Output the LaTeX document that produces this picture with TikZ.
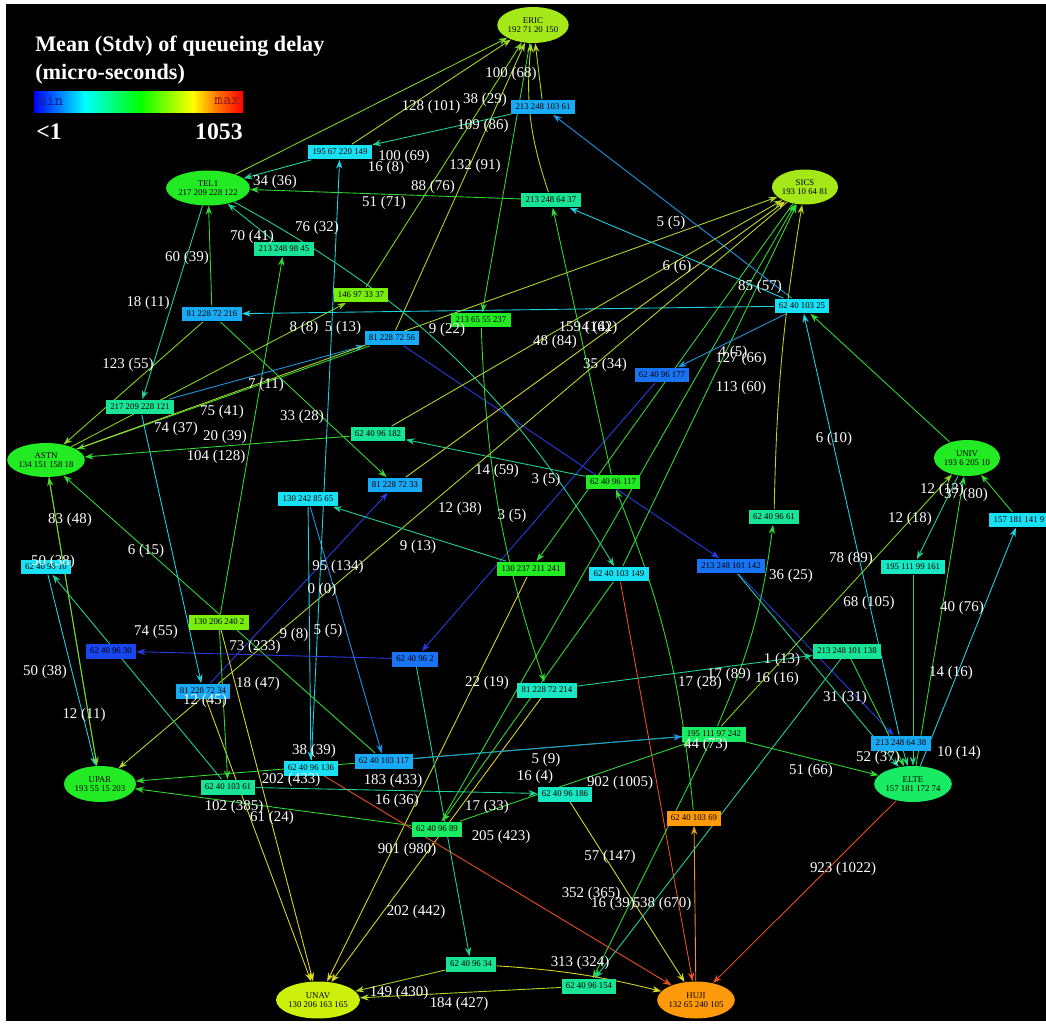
\documentclass[tikz,border=0pt]{standalone}
\usepackage{fontspec}
\setmainfont{Liberation Serif}
\usetikzlibrary{shapes.geometric,arrows.meta,backgrounds}
\definecolor{kblue}{RGB}{25,70,240}
\definecolor{kazure}{RGB}{25,115,245}
\definecolor{ksky}{RGB}{25,170,245}
\definecolor{kcyan}{RGB}{25,225,245}
\definecolor{kaqua}{RGB}{25,230,195}
\definecolor{kteal}{RGB}{25,228,150}
\definecolor{kmint}{RGB}{25,235,100}
\definecolor{kgreen}{RGB}{35,235,35}
\definecolor{klime}{RGB}{120,238,10}
\definecolor{kolive}{RGB}{165,232,25}
\definecolor{kyell}{RGB}{205,240,10}
\definecolor{korange}{RGB}{255,155,10}
\definecolor{lblue}{RGB}{40,60,230}
\definecolor{lsky}{RGB}{30,150,230}
\definecolor{lcyan}{RGB}{30,210,230}
\definecolor{lteal}{RGB}{30,210,150}
\definecolor{lgreen}{RGB}{50,215,50}
\definecolor{llime}{RGB}{130,215,30}
\definecolor{lolive}{RGB}{175,215,40}
\definecolor{lyell}{RGB}{215,215,40}
\definecolor{lorange}{RGB}{235,150,30}
\definecolor{lred}{RGB}{235,80,30}
\tikzset{
  host/.style={ellipse,inner sep=0pt,minimum width=1.44cm,minimum height=0.72cm,align=center,font=\fontsize{5}{5.5}\selectfont},
  router/.style={rectangle,inner xsep=2.5pt,inner ysep=0pt,minimum height=0.3cm,font=\fontsize{5}{5}\selectfont},
  hop/.style={-{Stealth[length=5pt,width=3.6pt]},line width=0.5pt},
  lbl/.style={text=white,inner sep=0pt,font=\fontsize{8.5}{8.5}\selectfont}
}
\begin{document}
\begin{tikzpicture}[x=0.02cm,y=-0.02cm]
\useasboundingbox (0,0) rectangle (1046,1024);
\node[host,fill=kolive,minimum width=1.42cm] (eric) at (533,25) {ERIC\\192 71 20 150};
\node[host,fill=kgreen,minimum width=1.56cm,minimum height=0.7cm] (tel1) at (208,188) {TEL1\\217 209 228 122};
\node[host,fill=kolive,minimum width=1.32cm,minimum height=0.7cm] (sics) at (805,187) {SICS\\193 10 64 81};
\node[host,fill=kgreen,minimum height=0.68cm] (astn) at (46,460) {ASTN\\134 151 158 18};
\node[host,fill=kgreen,minimum width=1.32cm] (univ) at (967,458) {UNIV\\193 6 205 10};
\node[host,fill=kgreen] (upar) at (100,784) {UPAR\\193 55 15 203};
\node[host,fill=kmint] (elte) at (913,784) {ELTE\\157 181 172 74};
\node[host,fill=kyell,minimum width=1.64cm,minimum height=0.74cm] (unav) at (318,1000) {UNAV\\130 206 163 165};
\node[host,fill=korange,minimum width=1.52cm,minimum height=0.74cm] (huji) at (696,1000) {HUJI\\132 65 240 105};
\node[router,fill=kcyan] (b1) at (340,152) {195 67 220 149};
\node[router,fill=ksky] (b2) at (543,107) {213 248 103 61};
\node[router,fill=kteal] (b3) at (551,200) {213 248 64 37};
\node[router,fill=kteal] (b4) at (284,249) {213 248 98 45};
\node[router,fill=klime] (b5) at (361,295) {146 97 33 37};
\node[router,fill=ksky] (b6) at (212,314) {81 228 72 216};
\node[router,fill=kgreen] (b7) at (481,320) {213 65 55 237};
\node[router,fill=ksky] (b8) at (392,338) {81 228 72 56};
\node[router,fill=kcyan] (b9) at (802,306) {62 40 103 25};
\node[router,fill=kazure] (b10) at (662,375) {62 40 96 177};
\node[router,fill=kteal] (b11) at (140,407) {217 209 228 121};
\node[router,fill=kteal] (b12) at (378,434) {62 40 96 182};
\node[router,fill=ksky] (b13) at (395,485) {81 228 72 33};
\node[router,fill=kgreen] (b14) at (613,482) {62 40 96 117};
\node[router,fill=kcyan] (b15) at (308,499) {130 242 85 65};
\node[router,fill=kteal] (b16) at (774,517) {62 40 96 61};
\node[router,fill=kgreen] (b17) at (531,569) {130 237 211 241};
\node[router,fill=kcyan] (b18) at (619,574) {62 40 103 149};
\node[router,fill=kazure] (b19) at (731,566) {213 248 101 142};
\node[router,fill=kaqua] (b20) at (913,567) {195 111 99 161};
\node[router,fill=kcyan] (b21) at (1019,520) {157 181 141 9};
\node[router,fill=kcyan] (b22) at (46,567) {62 40 96 10};
\node[router,fill=klime] (b23) at (219,622) {130 206 240 2};
\node[router,fill=kblue] (b24) at (111,651) {62 40 96 30};
\node[router,fill=kazure] (b25) at (415,659) {62 40 96 2};
\node[router,fill=kteal] (b26) at (847,651) {213 248 101 138};
\node[router,fill=ksky] (b27) at (203,691) {81 228 72 34};
\node[router,fill=kaqua] (b28) at (547,690) {81 228 72 214};
\node[router,fill=kmint] (b29) at (714,734) {195 111 97 242};
\node[router,fill=ksky] (b30) at (901,743) {213 248 64 38};
\node[router,fill=ksky] (b31) at (384,761) {62 40 103 117};
\node[router,fill=kcyan] (b32) at (311,768) {62 40 96 136};
\node[router,fill=kteal] (b33) at (228,787) {62 40 103 61};
\node[router,fill=kaqua] (b34) at (565,794) {62 40 96 186};
\node[router,fill=kmint] (b35) at (437,829) {62 40 96 89};
\node[router,fill=korange] (b36) at (694,818) {62 40 103 69};
\node[router,fill=kteal] (b37) at (471,964) {62 40 96 34};
\node[router,fill=kteal] (b38) at (589,986) {62 40 96 154};
\begin{scope}[on background layer]
\fill[white] (0,0) rectangle (1046,1024);
\fill[black] (6,4) rectangle (1046,1021);
\foreach \a/\b/\c in {b2/eric/lolive,b1/eric/lolive,tel1/eric/llime,b5/eric/llime,b8/eric/lolive,eric/b7/lgreen,
  b1/tel1/lteal,b3/tel1/lgreen,b4/tel1/lteal,b6/tel1/lgreen,tel1/b11/lteal,
  b23/b4/lgreen,b9/b6/lcyan,b6/astn/llime,b6/b13/lgreen,astn/b5/llime,b11/b8/lsky,b8/astn/lgreen,b8/b19/lblue,b12/astn/lgreen,
  astn/sics/lolive,b13/sics/lyell,b12/sics/lolive,sics/b17/lgreen,b18/sics/lgreen,b35/sics/lgreen,sics/upar/lolive,
  b30/b9/lcyan,univ/b9/lgreen,b9/b2/lsky,b9/b3/lcyan,b9/b10/lsky,b10/b25/lblue,b14/b12/lteal,b27/b13/lblue,
  b17/b15/lteal,b15/b31/lsky,b32/b1/lcyan,b15/b32/lcyan,b17/unav/lyell,b18/huji/lred,
  b19/b30/lblue,b19/elte/lteal,univ/b20/lteal,b20/elte/lteal,elte/b21/lcyan,b21/univ/lgreen,b29/univ/llime,elte/univ/lgreen,
  b28/b26/lteal,b26/elte/lgreen,b33/b22/lteal,b22/upar/lcyan,upar/astn/lgreen,b31/astn/lgreen,astn/upar/llime,b29/upar/lgreen,b35/upar/lgreen,
  b37/unav/lolive,b38/unav/lolive,b28/unav/lyell,b23/unav/lyell,b27/unav/lyell,b32/huji/lred,huji/b36/lorange,b34/huji/lyell,elte/huji/lred,
  b29/b38/lgreen,b26/b38/lteal,b29/elte/lgreen,b30/elte/lteal,b31/b29/lsky,b35/b29/lgreen,b25/b24/lblue,b25/b37/lteal,
  b11/b27/lcyan,b23/b33/lgreen,b33/b34/lteal,b18/b35/lgreen,b2/b1/lteal,b14/b3/lgreen}
  \draw[hop,\c] (\a) -- (\b);
\draw[hop,lolive] (b3) to[bend left=12] (eric);
\draw[hop,lteal] (tel1) to[bend left=15] (b18);
\draw[hop,lolive] (b16) to[bend left=4] (sics);
\draw[hop,lgreen] (b29) to[bend right=8] (b16);
\draw[hop,lgreen] (b36) to[bend right=8] (b14);
\draw[hop,lgreen] (b7) to[bend right=8] (b28);
\draw[hop,lyell] (b37) to[bend left=5] (huji);
\end{scope}
\node[anchor=base west,inner sep=0pt,text=white,font=\bfseries\fontsize{12.6}{15}\selectfont] (title) at (35,52) {Mean (Stdv) of queueing delay};
\node[anchor=base west,inner sep=0pt,text=white,font=\bfseries\fontsize{12.6}{15}\selectfont] (unit) at (35,80) {(micro-seconds)};
\shade[left color=blue,right color=cyan] (34,92) rectangle (85,113);
\shade[left color=cyan,right color=green] (84.5,92) rectangle (140,113);
\shade[left color=green,right color=yellow] (139.5,92) rectangle (193,113);
\shade[left color=yellow,right color=orange] (192.5,92) rectangle (215,113);
\shade[left color=orange,right color=red] (214.5,92) rectangle (243,113);
\node[anchor=west,inner sep=0pt,text={rgb,255:red,30;green,30;blue,150},font=\ttfamily\fontsize{9}{9}\selectfont] (min) at (38,101) {min};
\node[anchor=east,inner sep=0pt,text={rgb,255:red,150;green,30;blue,30},font=\ttfamily\fontsize{9}{9}\selectfont] (max) at (240,101) {max};
\node[anchor=base west,inner sep=0pt,text=white,font=\bfseries\fontsize{13.5}{15}\selectfont] (lo) at (36,140) {<1};
\node[anchor=base east,inner sep=0pt,text=white,font=\bfseries\fontsize{13.5}{15}\selectfont] (hi) at (243,140) {1053};
\foreach \x/\y/\t [count=\i] in {511/74/100 (68),431/107/128 (101),485/100/38 (29),483/126/109 (86),404/157/100 (69),
  386/168/16 (8),475/166/132 (91),433/187/88 (76),384/203/51 (71),275/182/34 (36),252/237/70 (41),317/228/76 (32),
  187/258/60 (39),148/303/18 (11),304/328/8 (8),343/328/5 (13),447/330/9 (22),671/223/5 (5),677/267/6 (6),760/287/85 (57),
  588/328/159 (162),596/328/4 (4),555/342/48 (84),605/365/35 (34),733/353/4 (5),741/359/127 (66),741/388/113 (60),
  128/365/123 (55),266/385/7 (11),222/412/75 (41),302/417/33 (28),176/429/74 (37),225/437/20 (39),216/457/104 (128),
  497/471/14 (59),546/480/3 (5),460/509/12 (38),512/516/3 (5),418/547/9 (13),834/439/6 (10),942/490/12 (13),966/495/37 (80),
  910/519/12 (18),70/520/83 (48),146/551/6 (15),53/562/50 (38),338/567/95 (134),322/590/0 (0),851/559/78 (89),
  791/576/36 (25),869/603/68 (105),962/608/40 (76),156/632/74 (55),294/635/9 (8),328/631/5 (5),255/647/73 (233),
  45/672/50 (38),258/684/18 (47),205/701/12 (45),84/715/12 (11),487/683/22 (19),782/660/1 (13),700/683/17 (28),
  729/675/17 (89),777/679/16 (16),951/673/14 (16),845/698/31 (31),959/753/10 (14),878/758/52 (37),811/771/51 (66),
  706/745/44 (73),314/751/38 (39),291/780/202 (433),234/807/102 (385),272/818/61 (24),546/760/5 (9),535/777/16 (4),
  393/781/183 (433),620/783/902 (1005),397/801/16 (36),487/807/17 (33),501/837/205 (423),407/850/901 (980),
  610/857/57 (147),591/894/352 (365),613/904/16 (39),662/904/538 (670),416/912/202 (442),580/963/313 (324),
  399/993/149 (430),459/1004/184 (427),843/869/923 (1022)}
  \node[lbl] (l\i) at (\x,\y) {\t};
\end{tikzpicture}
\end{document}
